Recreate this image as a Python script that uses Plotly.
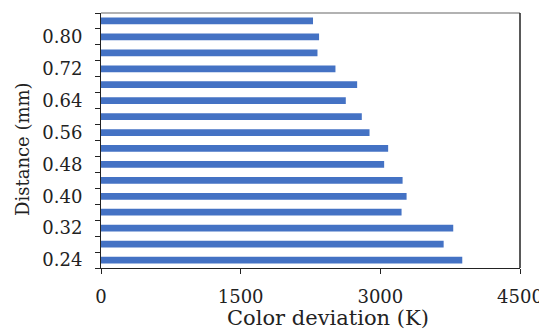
import plotly.graph_objects as go

distance_mm = [0.24, 0.28, 0.32, 0.36, 0.40, 0.44, 0.48, 0.52,
               0.56, 0.60, 0.64, 0.68, 0.72, 0.76, 0.80, 0.84]
color_dev_k = [3880, 3680, 3783, 3228, 3282, 3239, 3041, 3084,
               2884, 2801, 2629, 2751, 2518, 2325, 2342, 2277]
x_ticks = [0, 1500, 3000, 4500]
y_tick_labels = [0.24, 0.32, 0.40, 0.48, 0.56, 0.64, 0.72, 0.80]
x_title = "Color deviation (K)"
y_title = "Distance (mm)"

font_family = "DejaVu Serif"
txt = "#222"

fig = go.Figure(go.Bar(
    x=color_dev_k, y=distance_mm, orientation="h",
    marker=dict(color="#4472C4", line=dict(width=0)),
    width=0.0168,
))

# page body has an 8px margin, so the figure is sized/offset to compensate
fig.update_layout(
    width=539, height=323,
    margin=dict(l=93, r=27, t=5, b=63, autoexpand=False),
    paper_bgcolor="white", plot_bgcolor="white",
    font=dict(family=font_family, size=18, color=txt),
    showlegend=False,
    xaxis=dict(
        range=[0, 4500], tickvals=x_ticks, ticktext=[str(v) for v in x_ticks],
        showgrid=False, zeroline=False, automargin=False,
        showline=True, linecolor="#222", linewidth=1, mirror=False,
        ticks="outside", ticklen=5, tickcolor="#222",
        ticklabelstandoff=7,
    ),
    yaxis=dict(
        range=[0.22, 0.86], tickvals=y_tick_labels,
        ticktext=[f"{v:.2f}" for v in y_tick_labels],
        showgrid=False, zeroline=False, automargin=False,
        showline=True, linecolor="#222", linewidth=1, mirror=False,
        ticks="outside", ticklen=0, tickcolor="#222",
        ticklabelstandoff=14,
        minor=dict(tick0=0.22, dtick=0.04, ticks="outside", ticklen=5,
                   tickcolor="#222", showgrid=False),
    ),
    annotations=[
        dict(text=x_title, xref="paper", yref="paper", x=0.5418, y=0,
             xanchor="center", yanchor="middle", yshift=-50, showarrow=False,
             font=dict(family=font_family, size=21, color=txt)),
        dict(text=y_title, xref="paper", yref="paper", x=0, y=0.4667,
             xanchor="center", yanchor="middle", xshift=-78, showarrow=False,
             textangle=-90,
             font=dict(family=font_family, size=18, color=txt)),
    ],
    shapes=[
        dict(type="line", xref="paper", yref="paper", x0=0, x1=1, y0=1, y1=1,
             line=dict(color="#999", width=1.5)),
        dict(type="line", xref="paper", yref="paper", x0=1, x1=1, y0=0, y1=1,
             line=dict(color="#222", width=1.5)),
    ],
)

fig.write_html("out.html")
